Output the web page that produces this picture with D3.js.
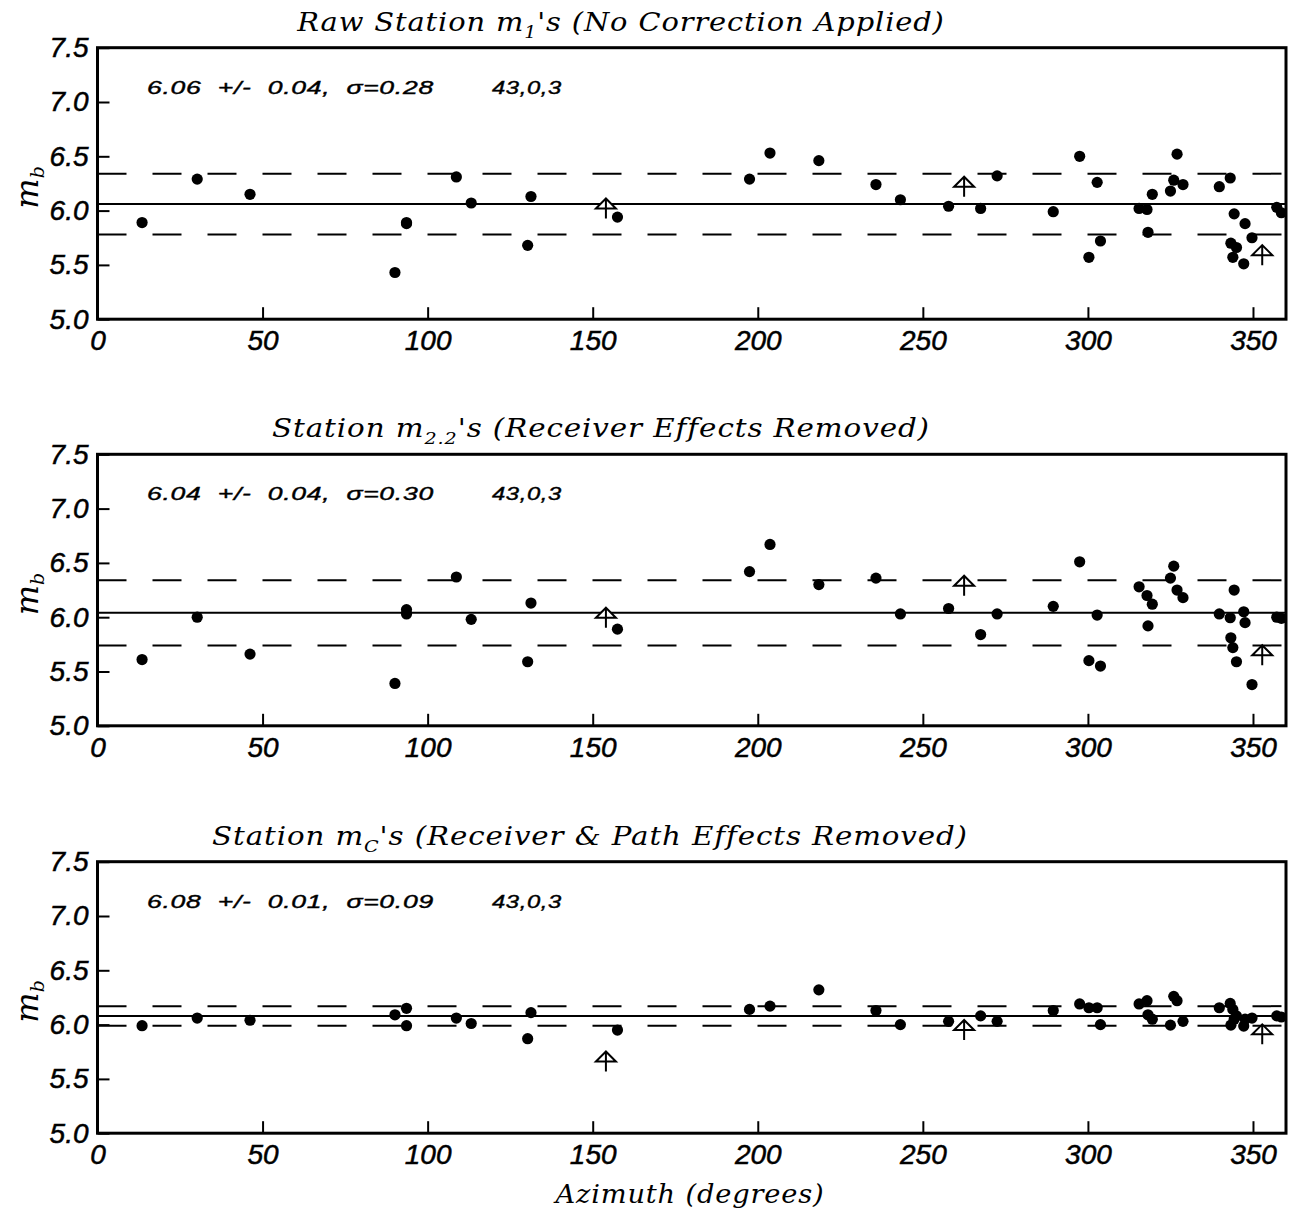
<!DOCTYPE html>
<html>
<head>
<meta charset="utf-8">
<script src="https://cdn.jsdelivr.net/npm/d3@7"></script>
<style>
	body{margin:0;background:#fff;}
	.tick text{font-family:"Liberation Sans",Arial,sans-serif;font-style:italic;font-size:28px;fill:#000;stroke:#000;stroke-width:0.5px;}
	.tick line{stroke:#000;stroke-width:2px;}
	.ttl{font-family:"DejaVu Serif",serif;font-style:italic;font-size:26px;fill:#000;}
	.stat{font-family:"Liberation Sans",Arial,sans-serif;font-style:italic;font-size:19px;fill:#000;stroke:#000;stroke-width:0.4px;}
</style>
</head>
<body>
<div id="chart"></div>
<script>
// station azimuths (degrees), same stations in every panel
var azimuth = [13.5,30.2,46.2,90.1,93.6,93.6,108.7,113.2,130.3,131.3,157.5,197.5,203.7,218.5,235.8,243.2,257.8,267.5,272.5,289.5,297.5,300.3,302.8,303.8,315.5,317.9,318.2,319.5,325.0,326.0,327.0,328.8,339.8,343.1,343.3,343.9,344.3,345.0,347.2,347.6,349.7,357.2,358.6];

// station magnitudes
var rawM1 = [5.89,6.29,6.15,5.43,5.89,5.88,6.31,6.07,5.68,6.13,5.94,6.29,6.53,6.46,6.24,6.10,6.04,6.02,6.32,5.99,6.50,5.57,6.26,5.72,6.02,6.01,5.80,6.15,6.18,6.28,6.52,6.24,6.22,6.30,5.70,5.57,5.97,5.66,5.51,5.88,5.75,6.03,5.98];
var m22 = [5.61,6.00,5.66,5.39,6.07,6.03,6.37,5.98,5.59,6.13,5.89,6.42,6.67,6.30,6.36,6.03,6.08,5.84,6.03,6.10,6.51,5.60,6.02,5.55,6.28,6.20,5.92,6.12,6.36,6.47,6.25,6.18,6.03,5.995,5.81,5.72,6.25,5.59,6.05,5.95,5.38,6.00,5.99];
var mC = [5.99,6.06,6.04,6.09,6.15,5.99,6.06,6.01,5.87,6.11,5.95,6.14,6.17,6.32,6.13,6.00,6.03,6.08,6.03,6.13,6.19,6.155,6.155,6.00,6.19,6.22,6.09,6.05,5.995,6.26,6.22,6.03,6.155,6.195,5.995,6.14,6.05,6.08,5.986,6.05,6.06,6.08,6.07];

// arrow (limit) stations
var arrowAz = [154.0,262.5,352.8];
var arrowRaw = [6.02,6.22,5.59];
var arrowM22 = [5.995,6.29,5.65];
var arrowC = [5.66,5.95,5.91];

var meanMb = [6.06,6.04,6.08];
var sigmaMb = [0.28,0.30,0.09];
var statText = ["6.06 +/- 0.04, \u03c3=0.28","6.04 +/- 0.04, \u03c3=0.30","6.08 +/- 0.01, \u03c3=0.09"];
var countText = "43,0,3";
var titleParts = [["Raw Station m","1","'s (No Correction Applied)"],["Station m","2.2","'s (Receiver Effects Removed)"],["Station m","C","'s (Receiver & Path Effects Removed)"]];

var xTicks = [0,50,100,150,200,250,300,350];
var yTicks = [5.0,5.5,6.0,6.5,7.0,7.5];

var panelTop = [47.7,454.3,861.7], panelH = 271.5;
var titleX = [621,601,590], titleW = [648,658,756];

var svg = d3.select("#chart").append("svg").attr("width",1291).attr("height",1215);
var x = d3.scaleLinear().domain([0,360]).range([97.5,1286]);

// stretch a text horizontally to a target width (reference font is wide)
function fit(sel,px,py,target,spacing){
	sel.attr("letter-spacing",spacing);
	var w = sel.node().getComputedTextLength();
	sel.attr("transform","translate("+px+","+py+") scale("+(target/w).toFixed(3)+",1)");
}

function arrowPath(){
	return "M0,-10L0,10M0,-10L-10,0L10,0Z";
}

function drawPanel(k,vals,arrows){
	var top = panelTop[k];
	var y = d3.scaleLinear().domain([5,7.5]).range([top+panelH,top]);
	var g = svg.append("g");

	// mean and +/- sigma lines
	g.append("line").attr("x1",x(0)).attr("x2",x(360))
		.attr("y1",y(meanMb[k])).attr("y2",y(meanMb[k]))
		.style("stroke","#000").style("stroke-width",2);
	[meanMb[k]+sigmaMb[k],meanMb[k]-sigmaMb[k]].forEach(function(v){
		g.append("line").attr("x1",x(0)).attr("x2",x(360))
			.attr("y1",y(v)).attr("y2",y(v))
			.style("stroke","#000").style("stroke-width",2)
			.style("stroke-dasharray","29,26");
	});

	g.selectAll(".dot").data(azimuth).enter().append("circle")
		.attr("class","dot")
		.attr("cx",function(d){return x(d);})
		.attr("cy",function(d,i){return y(vals[i]);})
		.attr("r",5.6)
		.style("fill","#000");

	g.selectAll(".arrow").data(arrowAz).enter().append("path")
		.attr("class","arrow")
		.attr("d",arrowPath())
		.attr("transform",function(d,i){return "translate("+x(d)+","+y(arrows[i])+")";})
		.style("fill","#fff").style("stroke","#000").style("stroke-width",2);

	// axes, ticks pointing inward
	g.append("g").attr("transform","translate("+x(0)+",0)")
		.call(d3.axisLeft(y).tickValues(yTicks).tickSize(-12).tickPadding(9).tickFormat(d3.format(".1f")))
		.call(function(a){a.select(".domain").remove();});
	g.append("g").attr("transform","translate(0,"+(top+panelH)+")")
		.call(d3.axisBottom(x).tickValues(xTicks).tickSize(-12).tickPadding(11))
		.call(function(a){a.select(".domain").remove();});

	g.append("rect").attr("x",x(0)).attr("y",top)
		.attr("width",x(360)-x(0)).attr("height",panelH)
		.style("fill","none").style("stroke","#000").style("stroke-width",3);

	var st = g.append("text").attr("class","stat").attr("xml:space","preserve").text(statText[k].replace(/ /g,"  "));
	fit(st,147,top+46,287,0.5);
	var ct = g.append("text").attr("class","stat").text(countText);
	fit(ct,492,top+46,70,0.5);

	var t = g.append("text").attr("class","ttl").attr("text-anchor","middle");
	t.append("tspan").text(titleParts[k][0]);
	t.append("tspan").attr("dy",7).style("font-size","17px").text(titleParts[k][1]);
	t.append("tspan").attr("dy",-7).text(titleParts[k][2]);
	fit(t,titleX[k],top-17,titleW[k],0.8);

	var yl = g.append("text").attr("class","ttl")
		.attr("transform","translate(38,"+(top+panelH/2+4)+") rotate(-90)")
		.attr("text-anchor","middle").style("font-size","32px");
	yl.append("tspan").text("m");
	yl.append("tspan").attr("dy",6).style("font-size","19px").text("b");
}

drawPanel(0,rawM1,arrowRaw);
drawPanel(1,m22,arrowM22);
drawPanel(2,mC,arrowC);

var xl = svg.append("text").attr("class","ttl").attr("text-anchor","middle").text("Azimuth (degrees)");
fit(xl,690,1203,269,0.8);
</script>
</body>
</html>
